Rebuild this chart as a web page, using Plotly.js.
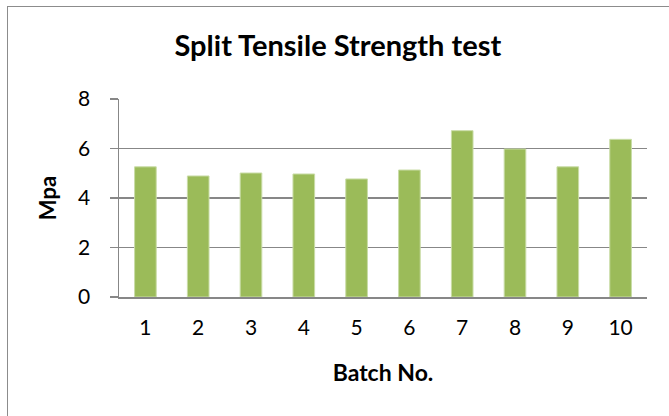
<!DOCTYPE html>
<html>
<head>
<meta charset="utf-8">
<script src="https://cdn.plot.ly/plotly-3.0.1.min.js"></script>
<style>
html,body{margin:0;padding:0;background:#fff;}
#wrap{position:relative;width:669px;height:416px;overflow:hidden;}
#frame{position:absolute;left:7px;top:6px;width:700px;height:450px;border-left:1.5px solid #8c8c8c;border-top:1.5px solid #8c8c8c;pointer-events:none;z-index:5;}
#chart{position:absolute;left:0;top:0;width:669px;height:416px;}
</style>
</head>
<body>
<div id="wrap">
<div id="chart"></div>
<div id="frame"></div>
</div>
<script>
const batches = ['1','2','3','4','5','6','7','8','9','10'];
const strength = [5.26, 4.89, 5.01, 4.97, 4.77, 5.13, 6.72, 5.98, 5.26, 6.37];
const yTicks = [0, 2, 4, 6, 8];

const FONT = 'Lato, "Open Sans", sans-serif';
const GRID = '#878787';

const trace = {
  type: 'bar',
  x: batches,
  y: strength,
  marker: {color: '#9BBB59', line: {color: '#C9DCA6', width: 1}},
  hoverinfo: 'x+y'
};

const layout = {
  width: 669, height: 416,
  margin: {l: 119, r: 22, t: 99, b: 119},
  paper_bgcolor: '#fff', plot_bgcolor: '#fff',
  bargap: 0.59,
  showlegend: false,
  font: {family: FONT, color: '#000'},
  title: {
    text: '<b>Split Tensile Strength test</b>',
    font: {family: FONT, size: 29, color: '#000'},
    xref: 'container', x: 0.505, xanchor: 'center',
    yref: 'container', y: 1 - 46/416, yanchor: 'middle'
  },
  xaxis: {
    type: 'category',
    showline: true, linecolor: GRID, linewidth: 1.5,
    ticks: '', showgrid: false,
    tickfont: {family: FONT, size: 21, color: '#000'},
    ticklabelstandoff: 11,
    title: {text: '<b>Batch No.</b>', font: {family: FONT, size: 23, color: '#000'}, standoff: 27}
  },
  yaxis: {
    range: [0, 8],
    tickvals: yTicks,
    ticktext: yTicks.map(String),
    showline: true, linecolor: GRID, linewidth: 1.5,
    ticks: 'outside', ticklen: 8, tickcolor: GRID, tickwidth: 1.5,
    showgrid: true, gridcolor: GRID, gridwidth: 1.5,
    zeroline: false,
    tickfont: {family: FONT, size: 21, color: '#000'},
    ticklabelstandoff: 15,
    title: {text: '<b>Mpa</b>', font: {family: FONT, size: 22, color: '#000'}, standoff: 15}
  }
};

Plotly.newPlot('chart', [trace], layout, {displayModeBar: false, staticPlot: true});
</script>
</body>
</html>
